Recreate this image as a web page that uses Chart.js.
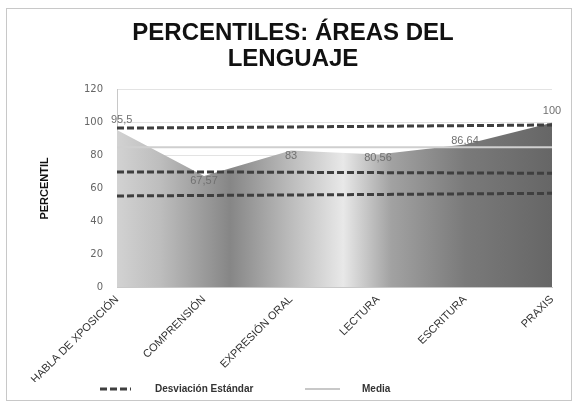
<!DOCTYPE html>
<html>
<head>
<meta charset="utf-8">
<script src="https://cdn.jsdelivr.net/npm/chart.js@4.4.0/dist/chart.umd.min.js"></script>
<style>
  html, body { margin: 0; padding: 0; background: #fff; }
  #wrap { position: absolute; left: 0; top: 0; width: 574px; height: 403px; }
  #frame { position: absolute; left: 6px; top: 8px; width: 566px; height: 393px; border: 1px solid #c8c8c8; box-sizing: border-box; }
  canvas { position: absolute; left: 0; top: 0; }
</style>
</head>
<body>
<div id="wrap">
  <div id="frame"></div>
  <canvas id="percentiles" width="574" height="403"></canvas>
</div>
<script>
/**
 * Percentiles - areas del lenguaje
*/
const categories = ['HABLA DE XPOSICIÓN', 'COMPRENSIÓN', 'EXPRESIÓN ORAL', 'LECTURA', 'ESCRITURA', 'PRAXIS'];
const percentil = [95.5, 67.57, 83, 80.56, 86.64, 100];
const media = [85, 85, 85, 85, 85, 85];
const desvAlta = [96.7, 97, 97.4, 97.8, 98.2, 98.6];
const desvMedia = [70, 70, 69.8, 69.6, 69.4, 69.2];
const desvBaja = [55.4, 55.7, 56, 56.3, 56.7, 57];
const yTicks = [0, 20, 40, 60, 80, 100, 120];

const fmt = v => String(v).replace('.', ',');
const FONT = '"Liberation Sans", Arial, sans-serif';

// gradient for the area
function areaFill(context) {
  const area = context.chart.chartArea;
  if (!area) return '#999';
  const g = context.chart.ctx.createLinearGradient(area.left, 0, area.right, 0);
  g.addColorStop(0, '#d2d2d2');
  g.addColorStop(0.1, '#bdbdbd');
  g.addColorStop(0.26, '#868686');
  g.addColorStop(0.4, '#bcbcbc');
  g.addColorStop(0.52, '#e8e8e8');
  g.addColorStop(0.63, '#a2a2a2');
  g.addColorStop(0.8, '#7a7a7a');
  g.addColorStop(1, '#666666');
  return g;
}

const valueLabels = {
  id: 'valueLabels',
  afterDatasetsDraw(chart) {
    const ctx = chart.ctx;
    const meta = chart.getDatasetMeta(4);
    const dy = [-10, 5, 5, 3, -4, -12];
    ctx.save();
    ctx.font = '11px ' + FONT;
    ctx.fillStyle = '#707070';
    ctx.textAlign = 'center';
    ctx.textBaseline = 'middle';
    meta.data.forEach((pt, i) => {
      const txt = fmt(percentil[i]);
      const w = ctx.measureText(txt).width;
      let x = pt.x;
      if (i === 0) x = pt.x + w / 2 - 6;
      ctx.fillText(txt, x, pt.y + dy[i]);
    });
    ctx.restore();
  }
};

// legend drawn by hand, Excel style
const bottomLegend = {
  id: 'bottomLegend',
  afterDraw(chart) {
    const ctx = chart.ctx;
    const y = 389;
    ctx.save();
    ctx.lineWidth = 3;
    ctx.strokeStyle = '#3f3f3f';
    ctx.setLineDash([7, 3]);
    ctx.beginPath(); ctx.moveTo(100, y); ctx.lineTo(131, y); ctx.stroke();
    ctx.setLineDash([]);
    ctx.lineWidth = 2;
    ctx.strokeStyle = '#c8c8c8';
    ctx.beginPath(); ctx.moveTo(305, y); ctx.lineTo(340, y); ctx.stroke();
    ctx.font = 'bold 10px ' + FONT;
    ctx.fillStyle = '#333';
    ctx.textBaseline = 'middle';
    ctx.fillText('Desviación Estándar', 155, y);
    ctx.fillText('Media', 362, y);
    ctx.restore();
  }
};

const ctxPercentiles = document.getElementById('percentiles');
if (ctxPercentiles) {
  const dashed = {
    borderColor: '#3f3f3f',
    borderWidth: 3,
    borderDash: [7, 3],
    pointRadius: 0,
    fill: false,
    tension: 0,
  };
  const config = {
    type: 'line',
    data: {
      labels: categories,
      datasets: [
        Object.assign({ label: 'Desviación Estándar', data: desvAlta }, dashed),
        Object.assign({ label: 'Desviación Estándar', data: desvMedia }, dashed),
        Object.assign({ label: 'Desviación Estándar', data: desvBaja }, dashed),
        {
          label: 'Media',
          data: media,
          borderColor: '#cfcfcf',
          borderWidth: 2,
          pointRadius: 0,
          fill: false,
        },
        {
          label: 'Percentil',
          data: percentil,
          borderWidth: 0,
          borderColor: 'rgba(0,0,0,0)',
          backgroundColor: areaFill,
          pointRadius: 0,
          fill: 'origin',
          tension: 0,
        },
      ],
    },
    plugins: [valueLabels, bottomLegend],
    options: {
      responsive: false,
      animation: false,
      layout: { padding: { left: 34, right: 22, top: 8, bottom: 21 } },
      plugins: {
        tooltip: { enabled: false },
        legend: { display: false },
        title: {
          display: true,
          text: ['PERCENTILES: ÁREAS DEL', 'LENGUAJE'],
          color: '#111',
          font: { family: FONT, size: 24, weight: 'bold', lineHeight: 1.1 },
          padding: { top: 12, bottom: 17 },
        },
      },
      scales: {
        x: {
          offset: false,
          grid: { display: false, drawTicks: false },
          border: { color: '#c8c8c8' },
          ticks: {
            minRotation: 45,
            maxRotation: 45,
            padding: 6,
            color: '#333',
            font: { family: FONT, size: 11 },
          },
          afterFit(scale) { scale.height = 95; },
        },
        y: {
          min: 0,
          max: 120,
          z: 1,
          afterBuildTicks(scale) { scale.ticks = yTicks.map(v => ({ value: v })); },
          grid: { color: 'rgba(215,215,215,0.7)', drawTicks: false },
          border: { color: '#c8c8c8' },
          ticks: {
            padding: 14,
            color: '#666',
            font: { family: '"DejaVu Sans", sans-serif', size: 10 },
          },
          title: {
            display: true,
            text: 'PERCENTIL',
            color: '#111',
            padding: { bottom: 28 },
            font: { family: FONT, size: 11, weight: 'bold' },
          },
          afterFit(scale) { scale.width = 83; },
        },
      },
    },
  };
  window.myChart = new Chart(ctxPercentiles, config);
}
</script>
</body>
</html>
